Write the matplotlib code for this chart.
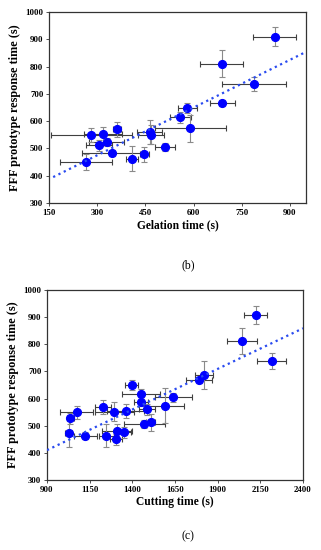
import numpy as np
import matplotlib
matplotlib.use("Agg")
import matplotlib.pyplot as plt

plt.rcParams['font.family'] = ['Liberation Serif', 'DejaVu Serif']

# (b) gelation time vs FFF prototype response time
gel_x = [852, 687, 789, 690, 581, 559, 590, 463, 468, 510, 447, 409, 346, 265, 282, 318, 362, 306, 329]
gel_y = [909, 811, 736, 667, 648, 615, 574, 560, 550, 506, 478, 463, 483, 450, 549, 552, 570, 512, 525]
gel_xerr = [67, 68, 100, 39, 31, 32, 110, 40, 40, 31, 15, 19, 93, 80, 127, 60, 12, 40, 55]
gel_yerr = [35, 49, 27, 10, 18, 20, 50, 43, 35, 15, 28, 45, 12, 28, 27, 27, 27, 20, 15]
gel_trend = [0.583, 300]      # slope, intercept
gel_trend_x = [163, 950]

# (c) cutting time vs FFF prototype response time
cut_x = [2123, 2040, 2217, 1819, 1790, 1397, 1451, 1640, 1451, 1589, 1227, 1484,
         1361, 1295, 1075, 1036, 1508, 1469, 1026, 1124, 1247, 1309, 1352, 1305]
cut_y = [908, 812, 738, 687, 668, 650, 615, 604, 589, 574, 569, 560,
         554, 551, 549, 527, 512, 505, 474, 463, 463, 481, 475, 450]
cut_xerr = [68, 88, 86, 52, 78, 39, 112, 107, 40, 112, 47, 47,
            110, 115, 97, 20, 25, 120, 23, 68, 44, 88, 40, 35]
cut_yerr = [34, 49, 29, 52, 10, 20, 22, 15, 15, 64, 27, 20,
            25, 35, 25, 20, 30, 15, 52, 12, 42, 25, 20, 20]
cut_trend = [0.2993, 140.6]
cut_trend_x = [900, 2400]

fig = plt.figure(figsize=(3.21, 5.5), dpi=100)
ax1 = fig.add_axes([49/321, 1-203/550, 257/321, 191/550])
ax2 = fig.add_axes([47/321, 1-480/550, 256/321, 190/550])


def panel(ax, x, y, xerr, yerr, trend, tx, xlim, xticks, xlabel):
    # horizontal bars darker, vertical bars lighter grey
    ax.errorbar(x, y, xerr=xerr, fmt='none', ecolor='#404040', elinewidth=0.8,
                capsize=2, capthick=0.8, zorder=2)
    ax.errorbar(x, y, yerr=yerr, fmt='none', ecolor='#8a8a8a', elinewidth=0.8,
                capsize=2, capthick=0.8, zorder=2)
    ax.plot(x, y, 'o', color='#0000ff', markersize=5.6, zorder=3)
    tx = np.array(tx)
    ax.plot(tx, trend[0]*tx + trend[1], ':', color='#2a4bf0', lw=1.6, zorder=4)
    ax.set_xlim(*xlim)
    ax.set_ylim(300, 1000)
    ax.set_xticks(xticks)
    ax.set_yticks(range(300, 1001, 100))
    ax.tick_params(labelsize=6.3, length=2, width=0.6, color='#333333', pad=2)
    for lab in ax.get_xticklabels() + ax.get_yticklabels():
        lab.set_fontweight('bold')
    for s in ax.spines.values():
        s.set_color('#333333')
        s.set_linewidth(0.9)
    ax.set_xlabel(xlabel, fontsize=8.3, fontweight='bold', labelpad=2)
    ax.set_ylabel('FFF prototype response time (s)', fontsize=8.8, fontweight='bold', labelpad=3)


panel(ax1, gel_x, gel_y, gel_xerr, gel_yerr, gel_trend, gel_trend_x,
      (150, 950), range(150, 901, 150), 'Gelation time (s)')
panel(ax2, cut_x, cut_y, cut_xerr, cut_yerr, cut_trend, cut_trend_x,
      (900, 2400), range(900, 2401, 250), 'Cutting time (s)')

fig.text(188/321, 1-265/550, '(b)', ha='center', va='center', fontsize=8.5)
fig.text(188/321, 1-536/550, '(c)', ha='center', va='center', fontsize=8.5)

fig.savefig('out.png', dpi=100)
